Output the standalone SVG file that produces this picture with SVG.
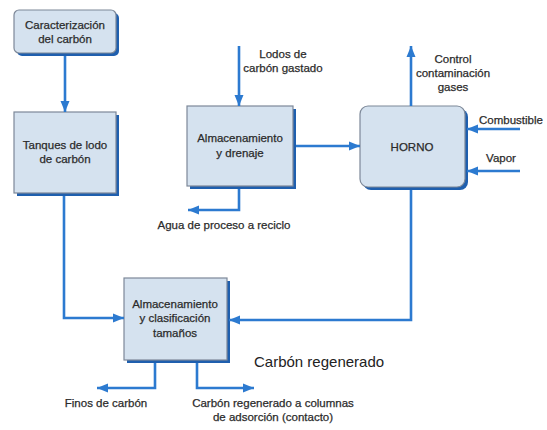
<svg xmlns="http://www.w3.org/2000/svg" width="547" height="430" viewBox="0 0 547 430">
  <style>
    .box { fill: #d5e2ef; stroke: #7d8898; stroke-width: 1.2; }
    .shadow { fill: #1f5fae; }
    .lbl { font-family: "Liberation Sans", Arial, sans-serif; font-size: 11.5px; fill: #2b2b2b; stroke: #2b2b2b; stroke-width: 0.25; text-anchor: middle; }
    .big { font-family: "Liberation Sans", Arial, sans-serif; font-size: 15px; fill: #222; }
    .flow { fill: none; stroke: #2c7ad0; stroke-width: 2.6; marker-end: url(#head); }
  </style>
  <defs>
    <marker id="head" markerUnits="userSpaceOnUse" markerWidth="12" markerHeight="12" viewBox="0 0 12 12" refX="11" refY="6" orient="auto">
      <path d="M0,1.5 L11,6 L0,10.5 Z" fill="#2c7ad0"/>
    </marker>
  </defs>
  <rect width="547" height="430" fill="#ffffff"/>

  <!-- process blocks -->
  <g id="caracterizacion">
    <rect class="shadow" x="17" y="13" width="102" height="43" rx="5"/>
    <rect class="box" x="14" y="10" width="102" height="43" rx="5"/>
    <text class="lbl" x="65" y="29">Caracterización</text>
    <text class="lbl" x="65" y="43">del carbón</text>
  </g>

  <g id="tanques">
    <rect class="shadow" x="17" y="115" width="102" height="81"/>
    <rect class="box" x="14" y="112" width="102" height="81"/>
    <text class="lbl" x="65" y="149">Tanques de lodo</text>
    <text class="lbl" x="65" y="163">de carbón</text>
  </g>

  <g id="drenaje">
    <rect class="shadow" x="190" y="109" width="106" height="80"/>
    <rect class="box" x="187" y="106" width="106" height="80"/>
    <text class="lbl" x="240" y="142">Almacenamiento</text>
    <text class="lbl" x="240" y="157">y drenaje</text>
  </g>

  <g id="horno">
    <rect class="shadow" x="363" y="109" width="105" height="81" rx="8"/>
    <rect class="box" x="360" y="106" width="105" height="81" rx="8"/>
    <text class="lbl" x="412" y="151">HORNO</text>
  </g>

  <g id="clasificacion">
    <rect class="shadow" x="127" y="281" width="103" height="82"/>
    <rect class="box" x="124" y="278" width="103" height="82"/>
    <text class="lbl" x="175" y="308">Almacenamiento</text>
    <text class="lbl" x="175" y="322">y clasificación</text>
    <text class="lbl" x="175" y="337">tamaños</text>
  </g>

  <!-- flow lines -->
  <g id="connectors">
    <path class="flow" d="M65,56 V112"/>
    <path class="flow" d="M64,196 V318 H124"/>
    <path class="flow" d="M239,46 V106"/>
    <path class="flow" d="M296,146 H360"/>
    <path class="flow" d="M239,189 V210 H188"/>
    <path class="flow" d="M411,106 V46"/>
    <path class="flow" d="M520,129 H467"/>
    <path class="flow" d="M520,171 H467"/>
    <path class="flow" d="M411,190 V320 H229"/>
    <path class="flow" d="M155,363 V388 H97"/>
    <path class="flow" d="M197,363 V388 H254"/>
  </g>

  <!-- stream labels -->
  <g id="labels">
    <text class="lbl" x="283" y="58">Lodos de</text>
    <text class="lbl" x="283" y="72">carbón gastado</text>
    <text class="lbl" x="224" y="229">Agua de proceso a reciclo</text>
    <text class="lbl" x="453" y="63">Control</text>
    <text class="lbl" x="453" y="77">contaminación</text>
    <text class="lbl" x="453" y="91">gases</text>
    <text class="lbl" x="511" y="124">Combustible</text>
    <text class="lbl" x="501" y="162">Vapor</text>
    <text class="lbl" x="106" y="407">Finos de carbón</text>
    <text class="lbl" x="273" y="407">Carbón regenerado a columnas</text>
    <text class="lbl" x="273" y="421">de adsorción (contacto)</text>
    <text class="big" x="254" y="367">Carbón regenerado</text>
  </g>
</svg>
